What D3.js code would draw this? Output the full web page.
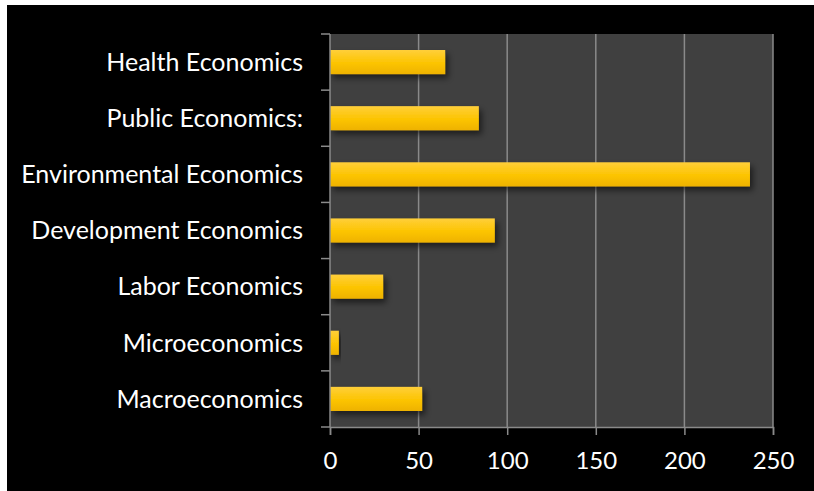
<!DOCTYPE html>
<html>
<head>
<meta charset="utf-8">
<script src="https://cdn.jsdelivr.net/npm/d3@7"></script>
<style>
  html, body { margin: 0; padding: 0; background: #fff; }
  svg { display: block; }
  text { font-family: Lato, "Open Sans", sans-serif; fill: #fff; }
</style>
</head>
<body>
<svg width="814" height="491"></svg>
<script>
// chart data
const categories = ["Health Economics", "Public Economics:", "Environmental Economics",
  "Development Economics", "Labor Economics", "Microeconomics", "Macroeconomics"];
const values = [65, 84, 237, 93, 30, 5, 52];
const xTicks = [0, 50, 100, 150, 200, 250];

const svg = d3.select("svg"),
    margin = {top: 34, right: 41, bottom: 64, left: 330},
    width = 814 - margin.left - margin.right,
    height = 491 - margin.top - margin.bottom;

// black panel with the thin white edge on top / left
svg.append("rect")
    .attr("x", 7).attr("y", 5)
    .attr("width", 807).attr("height", 486)
    .attr("fill", "#000");

const defs = svg.append("defs");
const grad = defs.append("linearGradient")
    .attr("id", "barGrad")
    .attr("x1", 0).attr("y1", 0).attr("x2", 0).attr("y2", 1);
grad.append("stop").attr("offset", "0%").attr("stop-color", "#ffcf3a");
grad.append("stop").attr("offset", "55%").attr("stop-color", "#fcc400");
grad.append("stop").attr("offset", "100%").attr("stop-color", "#eeb200");

const shadow = defs.append("filter").attr("id", "shadow")
    .attr("x", "-10%").attr("y", "-20%").attr("width", "130%").attr("height", "180%");
shadow.append("feDropShadow")
    .attr("dx", 3).attr("dy", 4).attr("stdDeviation", 3)
    .attr("flood-color", "#000").attr("flood-opacity", 0.55);

const g = svg.append("g").attr("transform", "translate(" + margin.left + "," + margin.top + ")");

const x = d3.scaleLinear()
    .domain([0, 250])
    .range([0, width]);

const y = d3.scaleBand()
    .domain(categories)
    .range([0, height])
    .paddingInner(0.57)
    .paddingOuter(0.285);

// plot background
g.append("rect")
    .attr("width", width).attr("height", height)
    .attr("fill", "#404040");

// vertical gridlines
g.selectAll(".grid")
    .data(xTicks.slice(1))
    .enter().append("line")
    .attr("class", "grid")
    .attr("x1", d => x(d)).attr("x2", d => x(d))
    .attr("y1", 0).attr("y2", height)
    .attr("stroke", "#8a8a8a")
    .attr("stroke-width", 1.5);

// bars
g.selectAll(".bar")
    .data(values)
    .enter().append("rect")
    .attr("class", "bar")
    .attr("x", 0)
    .attr("y", (d, i) => y(categories[i]))
    .attr("width", d => x(d))
    .attr("height", y.bandwidth())
    .attr("fill", "url(#barGrad)")
    .attr("filter", "url(#shadow)");

// x axis
const xAxis = g.append("g")
    .attr("transform", "translate(0," + height + ")")
    .call(d3.axisBottom(x).tickValues(xTicks).tickSize(8).tickPadding(17));
xAxis.select(".domain").attr("stroke", "#8a8a8a").attr("stroke-width", 1.5);
xAxis.selectAll(".tick line").attr("stroke", "#8a8a8a").attr("stroke-width", 1.5);
xAxis.selectAll(".tick text")
    .attr("fill", "#fff")
    .style("font-size", "24px");

// y axis: ticks sit on the band boundaries
const step = y.step();
const yAxis = g.append("g");
yAxis.append("line")
    .attr("x1", 0).attr("x2", 0).attr("y1", 0).attr("y2", height)
    .attr("stroke", "#8a8a8a").attr("stroke-width", 1.5);
yAxis.selectAll(".ytick")
    .data(d3.range(categories.length + 1))
    .enter().append("line")
    .attr("x1", -9).attr("x2", 0)
    .attr("y1", i => i * step).attr("y2", i => i * step)
    .attr("stroke", "#8a8a8a").attr("stroke-width", 1.5);
yAxis.selectAll(".ylabel")
    .data(categories)
    .enter().append("text")
    .attr("x", -27)
    .attr("y", d => y(d) + y.bandwidth() / 2)
    .attr("dy", "0.35em")
    .attr("text-anchor", "end")
    .style("font-size", "25px")
    .text(d => d);
</script>
</body>
</html>
